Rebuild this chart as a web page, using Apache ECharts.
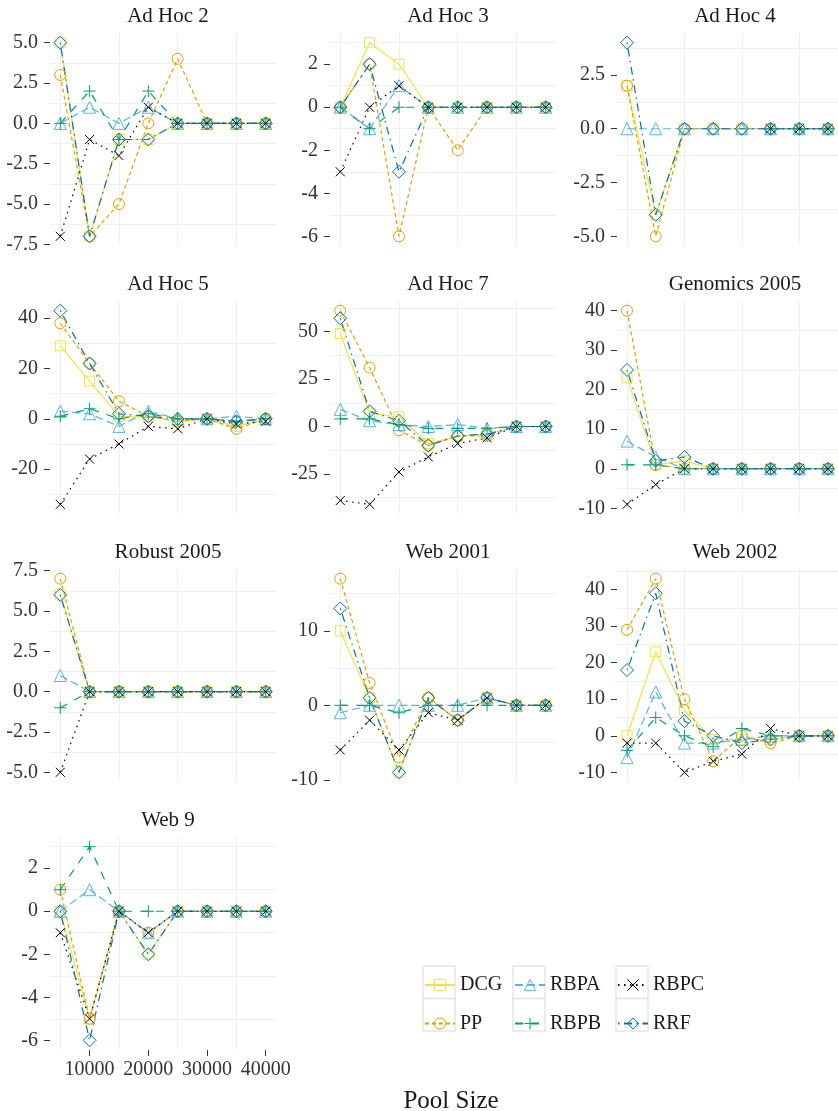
<!DOCTYPE html>
<html>
<head>
<meta charset="utf-8">
<script src="https://cdn.jsdelivr.net/npm/echarts@6/dist/echarts.min.js"></script>
<style>
  html, body { margin: 0; padding: 0; background: #fff; }
  #chart { width: 838px; height: 1111px; }
</style>
</head>
<body>
<div id="chart"></div>
<script>
// x values shared by every panel
const poolSizes = [5000, 10000, 15000, 20000, 25000, 30000, 35000, 40000];
const xTicks = [10000, 20000, 30000, 40000];

const panels = ['Ad Hoc 2', 'Ad Hoc 3', 'Ad Hoc 4', 'Ad Hoc 5', 'Ad Hoc 7',
  'Genomics 2005', 'Robust 2005', 'Web 2001', 'Web 2002', 'Web 9'];

// one row per panel, same order as panels (null = no point)
const dcg = [
  [5, -7, -1, -1, 0, 0, 0, 0],
  [0, 3, 2, 0, 0, 0, 0, 0],
  [2, -4, 0, 0, 0, 0, 0, 0],
  [29, 15, 1, 1, -1, 0, -3, 0],
  [49, 7, 5, -9, -5, -4, 0, 0],
  [23, 1, 2, 0, 0, 0, 0, 0],
  [6, 0, 0, 0, 0, 0, 0, 0],
  [10, 1, -9, 1, -2, 1, 0, 0],
  [0, 23, 7, -1, -1, -1, 0, 0],
  [0, -5, 0, -2, 0, 0, 0, 0]
];
const pp = [
  [3, -7, -5, 0, 4, 0, 0, 0],
  [0, 2, -6, 0, -2, 0, 0, 0],
  [2, -5, 0, 0, 0, 0, 0, 0],
  [38, 22, 7, 1, -1, 0, -4, 0],
  [61, 31, -2, -10, -5, -5, 0, 0],
  [40, 1, 0, 0, 0, 0, 0, 0],
  [7, 0, 0, 0, 0, 0, 0, 0],
  [17, 3, -7, 1, -2, 1, 0, 0],
  [29, 43, 10, -7, 0, -2, 0, 0],
  [1, -5, 0, -1, 0, 0, 0, 0]
];
const rbpa = [
  [0, 1, 0, 1, 0, 0, 0, 0],
  [0, -1, 1, 0, 0, 0, 0, 0],
  [0, 0, 0, 0, 0, 0, 0, 0],
  [3, 2, -3, 3, 0, 0, 1, 0],
  [9, 3, 1, 0, 1, -1, 0, 0],
  [7, 3, 0, 0, 0, 0, 0, 0],
  [1, 0, 0, 0, 0, 0, 0, 0],
  [-1, 0, 0, 0, 0, 1, 0, 0],
  [-6, 12, -2, -2, -1, 0, 0, 0],
  [0, 1, 0, -1, 0, 0, 0, 0]
];
const rbpb = [
  [0, 2, -1, 2, 0, 0, 0, 0],
  [0, -1, 0, 0, 0, 0, 0, 0],
  [null, null, null, null, null, 0, 0, 0],
  [1, 4, 0, 2, 0, 0, -1, 0],
  [4, 4, 1, -1, -1, -1, 0, 0],
  [1, 1, 0, 0, 0, 0, 0, 0],
  [-1, 0, 0, 0, 0, 0, 0, 0],
  [0, 0, -1, 0, 0, 0, 0, 0],
  [-4, 5, 0, -3, 2, 0, 0, 0],
  [1, 3, 0, 0, 0, 0, 0, 0]
];
const rbpc = [
  [-7, -1, -2, 1, 0, 0, 0, 0],
  [-3, 0, 1, 0, 0, 0, 0, 0],
  [null, null, null, null, null, 0, 0, 0],
  [-34, -16, -10, -3, -4, 0, -2, -1],
  [-39, -41, -24, -16, -9, -6, 0, 0],
  [-9, -4, 0, 0, 0, 0, 0, 0],
  [-5, 0, 0, 0, 0, 0, 0, 0],
  [-6, -2, -6, -1, -2, 1, 0, 0],
  [-2, -2, -10, -7, -5, 2, 0, 0],
  [-1, -5, 0, -1, 0, 0, 0, 0]
];
const rrf = [
  [5, -7, -1, -1, 0, 0, 0, 0],
  [0, 2, -3, 0, 0, 0, 0, 0],
  [4, -4, 0, 0, 0, 0, 0, 0],
  [43, 22, 2, 1, 0, 0, -1, 0],
  [57, 8, 3, -10, -5, -4, 0, 0],
  [25, 2, 3, 0, 0, 0, 0, 0],
  [6, 0, 0, 0, 0, 0, 0, 0],
  [13, 1, -9, 1, -2, 1, 0, 0],
  [18, 39, 4, 0, -2, -1, 0, 0],
  [0, -6, 0, -2, 0, 0, 0, 0]
];

const yTicks = [
  [-7.5, -5, -2.5, 0, 2.5, 5],
  [-6, -4, -2, 0, 2],
  [-5, -2.5, 0, 2.5],
  [-20, 0, 20, 40],
  [-25, 0, 25, 50],
  [-10, 0, 10, 20, 30, 40],
  [-5, -2.5, 0, 2.5, 5, 7.5],
  [-10, 0, 10],
  [-10, 0, 10, 20, 30, 40],
  [-6, -4, -2, 0, 2]
];

const PLUS = 'path://M0,5L10,5M5,0L5,10';
const CROSS = 'path://M0,0L10,10M10,0L0,10';

const measures = [
  { name: 'DCG', rows: dcg, color: '#F0E442', dash: 'solid', symbol: 'rect', size: 10 },
  { name: 'PP', rows: pp, color: '#E69F00', dash: [4, 3], symbol: 'circle', size: 11 },
  { name: 'RBPA', rows: rbpa, color: '#56B4E9', dash: [8, 4], symbol: 'triangle', size: 12 },
  { name: 'RBPB', rows: rbpb, color: '#009E73', dash: [8, 8], symbol: PLUS, size: 12 },
  { name: 'RBPC', rows: rbpc, color: '#000000', dash: [1.5, 4.5], symbol: CROSS, size: 9 },
  { name: 'RRF', rows: rrf, color: '#0072B2', dash: [1.5, 4.5, 8, 4.5], symbol: 'diamond', size: 13 }
];

const font = 'Liberation Serif';
const textColor = '#333';
const gridColor = '#efefef';
const colLeft = [50, 330, 617];
const rowTop = [33, 301, 569, 837];
const panelW = 226, panelH = 213;

const expandMin = v => v.min - 0.05 * (v.max - v.min);
const expandMax = v => v.max + 0.05 * (v.max - v.min);

const grids = [], xAxes = [], yAxes = [], series = [], titles = [];

panels.forEach((name, i) => {
  const left = colLeft[i % 3];
  const top = rowTop[Math.floor(i / 3)];
  grids.push({ left, top, width: panelW, height: panelH });

  titles.push({
    text: name,
    left: left + panelW / 2,
    top: top - 32,
    textAlign: 'center',
    textStyle: { fontFamily: font, fontSize: 21, fontWeight: 'normal', color: '#1a1a1a' }
  });

  const isBottom = i === 9;
  xAxes.push({
    gridIndex: i,
    type: 'value',
    min: expandMin,
    max: expandMax,
    minInterval: 10000,
    maxInterval: 10000,
    axisLine: { show: false, onZero: false },
    splitLine: { show: false },
    minorTick: { show: false, splitNumber: 2 },
    minorSplitLine: { show: true, lineStyle: { color: gridColor, width: 1 } },
    axisTick: { show: isBottom, length: 6, customValues: xTicks, lineStyle: { color: textColor } },
    axisLabel: {
      show: isBottom, customValues: xTicks, margin: 10,
      fontFamily: font, fontSize: 20, color: textColor,
      formatter: v => String(v)
    }
  });

  const ticks = yTicks[i];
  const step = ticks[1] - ticks[0];
  const decimals = ticks.some(t => !Number.isInteger(t)) ? 1 : 0;
  yAxes.push({
    gridIndex: i,
    type: 'value',
    min: expandMin,
    max: expandMax,
    minInterval: step,
    maxInterval: step,
    axisLine: { show: false, onZero: false },
    splitLine: { show: false },
    minorTick: { show: false, splitNumber: 2 },
    minorSplitLine: { show: true, lineStyle: { color: gridColor, width: 1 } },
    axisTick: { show: true, length: 6, customValues: ticks, lineStyle: { color: textColor } },
    axisLabel: {
      customValues: ticks, margin: 12,
      fontFamily: font, fontSize: 20, color: textColor,
      formatter: v => v.toFixed(decimals)
    }
  });

  measures.forEach(m => {
    series.push({
      type: 'line',
      name: m.name,
      xAxisIndex: i,
      yAxisIndex: i,
      data: poolSizes.map((x, k) => [x, m.rows[i][k]]),
      symbol: m.symbol,
      symbolSize: m.size,
      showAllSymbol: true,
      lineStyle: { color: m.color, width: 1.2, type: m.dash },
      itemStyle: { color: 'rgba(0,0,0,0)', borderColor: m.color, borderWidth: 1 },
      emphasis: { disabled: true }
    });
  });
});

titles.push({
  text: 'Pool Size',
  left: 446,
  top: 1084,
  textAlign: 'center',
  textStyle: { fontFamily: font, fontSize: 25, fontWeight: 'normal', color: '#1a1a1a' }
});

// legend: three columns of two keys
const legendCols = [['DCG', 'PP'], ['RBPA', 'RBPB'], ['RBPC', 'RRF']];
const legendLeft = [424, 514, 617];
const legends = legendCols.map((items, c) => ({
  data: items,
  orient: 'vertical',
  left: legendLeft[c],
  top: 975,
  padding: 0,
  itemWidth: 30,
  itemHeight: 14,
  itemGap: 18.5,
  selectedMode: false,
  itemStyle: { borderWidth: 'inherit' },
  textStyle: { fontFamily: font, fontSize: 20, color: '#1a1a1a', lineHeight: 14 }
}));

// grey key boxes behind the legend icons
const keyBoxes = [];
legendLeft.forEach(x => {
  [966, 998.5].forEach(y => {
    keyBoxes.push({
      type: 'rect',
      shape: { x: x - 1, y, width: 32, height: 32.5 },
      style: { fill: 'none', stroke: '#e6e6e6', lineWidth: 1.5 },
      z: -1
    });
  });
});

const chart = echarts.init(document.getElementById('chart'));
chart.setOption({
  animation: false,
  backgroundColor: '#fff',
  title: titles,
  legend: legends,
  grid: grids,
  xAxis: xAxes,
  yAxis: yAxes,
  series,
  graphic: keyBoxes
});
</script>
</body>
</html>
